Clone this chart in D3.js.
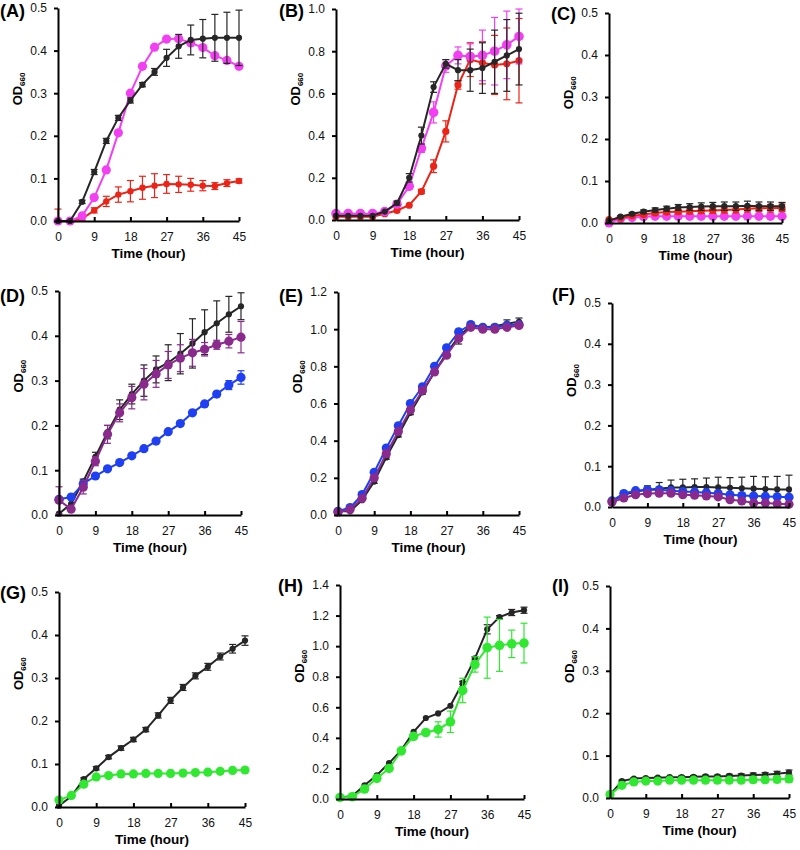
<!DOCTYPE html>
<html><head><meta charset="utf-8">
<script src="https://cdn.jsdelivr.net/npm/d3@7"></script>
<style>body{margin:0;background:#fff} svg{display:block;font-family:"Liberation Sans",Arial,Helvetica,sans-serif}</style>
</head><body><svg id="c" width="800" height="850"></svg>
<script>
// ---------- data ----------
const time = [0,3,6,9,12,15,18,21,24,27,30,33,36,39,42,45];
const xTicks = [0,9,18,27,36,45];
const panelLabels = ["(A)","(B)","(C)","(D)","(E)","(F)","(G)","(H)","(I)"];
const yMaxes = [0.5,1.0,0.5,0.5,1.2,0.5,0.5,1.4,0.5];
const yTickSteps = [0.1,0.2,0.1,0.1,0.2,0.1,0.1,0.2,0.1];

// Panel A
const aBlack      = [0.000,0.000,0.045,0.115,0.188,0.242,0.283,0.320,0.350,0.383,0.410,0.425,0.428,0.430,0.430,0.430];
const aBlackErr   = [0,0,0.004,0.006,0.006,0.006,0.006,0.005,0.008,0.02,0.028,0.035,0.045,0.055,0.06,0.065];
const aMagenta    = [0.000,0.000,0.012,0.055,0.120,0.207,0.300,0.363,0.408,0.427,0.428,0.418,0.407,0.388,0.377,0.363];
const aMagentaErr = [0,0,0,0,0,0,0,0,0,0,0,0,0,0,0,0];
const aRed        = [0.000,0.000,0.005,0.025,0.046,0.062,0.070,0.078,0.083,0.087,0.086,0.085,0.083,0.082,0.089,0.094];
const aRedErr     = [0.028,0,0.004,0.006,0.012,0.018,0.025,0.027,0.028,0.022,0.019,0.015,0.012,0.008,0.008,0.005];
// Panel B
const bBlack      = [0.020,0.020,0.020,0.020,0.040,0.080,0.200,0.400,0.630,0.740,0.710,0.710,0.720,0.750,0.780,0.810];
const bBlackErr   = [0,0,0,0,0,0.01,0.02,0.04,0.025,0.02,0.05,0.10,0.12,0.15,0.17,0.17];
const bMagenta    = [0.030,0.030,0.030,0.030,0.040,0.075,0.160,0.340,0.510,0.730,0.780,0.775,0.780,0.800,0.830,0.870];
const bMagentaErr = [0,0,0,0,0,0,0.01,0.02,0.05,0.03,0.04,0.06,0.12,0.16,0.16,0.13];
const bRed        = [0.015,0.015,0.015,0.015,0.030,0.045,0.070,0.135,0.255,0.420,0.640,0.760,0.745,0.735,0.740,0.755];
const bRedErr     = [0,0,0,0,0,0,0,0.01,0.03,0.05,0.02,0.08,0.10,0.14,0.17,0.20];
// Panel C
const cBlack      = [0.005,0.015,0.022,0.027,0.031,0.034,0.037,0.038,0.039,0.040,0.040,0.040,0.041,0.040,0.040,0.040];
const cBlackErr   = [0,0.002,0.003,0.004,0.005,0.006,0.007,0.008,0.009,0.009,0.010,0.010,0.011,0.010,0.010,0.009];
const cMagenta    = [0.000,0.010,0.013,0.015,0.016,0.016,0.016,0.016,0.016,0.016,0.016,0.016,0.016,0.016,0.016,0.016];
const cMagentaErr = [0,0,0,0,0,0,0,0,0,0,0,0,0,0,0,0];
const cRed        = [0.008,0.012,0.017,0.020,0.024,0.026,0.027,0.028,0.029,0.030,0.031,0.032,0.034,0.035,0.035,0.036];
const cRedErr     = [0,0,0.002,0.003,0.004,0.005,0.005,0.006,0.006,0.007,0.007,0.008,0.008,0.008,0.009,0.009];
// Panel D
const dBlack      = [0.003,0.025,0.075,0.130,0.185,0.235,0.270,0.300,0.325,0.340,0.360,0.383,0.408,0.428,0.448,0.466];
const dBlackErr   = [0,0,0.005,0.01,0.015,0.022,0.022,0.035,0.03,0.04,0.045,0.055,0.05,0.05,0.04,0.03];
const dBlue       = [0.035,0.040,0.070,0.087,0.103,0.117,0.132,0.148,0.165,0.186,0.204,0.228,0.248,0.270,0.290,0.307];
const dBlueErr    = [0,0,0,0,0,0,0,0,0,0,0,0,0,0.005,0.01,0.015];
const dPurple     = [0.033,0.013,0.062,0.120,0.180,0.228,0.262,0.292,0.315,0.335,0.350,0.362,0.370,0.380,0.388,0.397];
const dPurpleErr  = [0.03,0,0.015,0.01,0.02,0.02,0.025,0.035,0.03,0.03,0.03,0.03,0.015,0.01,0.015,0.035];
// Panel E
const eBlack      = [0.020,0.020,0.080,0.180,0.310,0.430,0.550,0.660,0.770,0.870,0.960,1.020,1.010,1.015,1.030,1.040];
const eBlackErr   = [0,0,0,0.01,0.01,0.01,0.01,0.01,0.01,0.01,0.04,0.01,0.01,0.01,0.02,0.02];
const eBlue       = [0.020,0.040,0.110,0.230,0.360,0.480,0.600,0.690,0.800,0.900,0.985,1.025,1.010,1.010,1.020,1.025];
const eBlueErr    = [0,0,0,0,0,0,0,0,0,0,0,0,0,0,0,0];
const ePurple     = [0.015,0.030,0.090,0.200,0.330,0.450,0.565,0.670,0.770,0.860,0.950,1.010,1.000,1.000,1.010,1.020];
const ePurpleErr  = [0,0,0.01,0.01,0.02,0.01,0.01,0.01,0.01,0.01,0.01,0.01,0.01,0.01,0.01,0.01];
// Panel F
const fBlack      = [0.015,0.030,0.038,0.042,0.045,0.048,0.048,0.049,0.049,0.048,0.047,0.046,0.045,0.044,0.043,0.043];
const fBlackErr   = [0,0.003,0.006,0.01,0.015,0.018,0.02,0.02,0.022,0.025,0.025,0.027,0.03,0.03,0.032,0.035];
const fBlue       = [0.015,0.033,0.040,0.042,0.042,0.040,0.038,0.037,0.035,0.033,0.030,0.028,0.027,0.026,0.025,0.024];
const fBlueErr    = [0,0,0,0,0,0,0,0,0,0,0,0,0,0,0,0];
const fPurple     = [0.012,0.022,0.030,0.033,0.034,0.034,0.030,0.029,0.027,0.025,0.018,0.015,0.010,0.010,0.008,0.007];
const fPurpleErr  = [0,0,0,0,0,0,0,0,0,0,0,0,0,0,0,0];
// Panel G
const gBlack      = [0.003,0.025,0.065,0.090,0.116,0.137,0.157,0.180,0.213,0.248,0.278,0.305,0.326,0.350,0.368,0.387];
const gBlackErr   = [0,0,0.003,0.004,0.004,0.005,0.005,0.005,0.006,0.007,0.007,0.007,0.008,0.008,0.01,0.011];
const gGreen      = [0.016,0.027,0.053,0.070,0.073,0.077,0.077,0.078,0.078,0.078,0.079,0.080,0.081,0.083,0.085,0.086];
const gGreenErr   = [0,0,0,0,0,0,0,0,0,0,0,0,0,0,0,0];
// Panel H
const hBlack      = [0.010,0.020,0.090,0.155,0.235,0.320,0.440,0.530,0.560,0.610,0.760,0.920,1.110,1.190,1.220,1.235];
const hBlackErr   = [0,0,0,0,0,0,0,0,0,0,0.01,0.01,0.03,0.01,0.02,0.02];
const hGreen      = [0.010,0.015,0.065,0.135,0.200,0.315,0.410,0.435,0.455,0.505,0.710,0.880,0.990,1.005,1.015,1.020];
const hGreenErr   = [0,0,0,0,0,0,0,0,0.05,0.07,0.08,0.05,0.20,0.17,0.09,0.13];
// Panel I
const iBlack      = [0.008,0.040,0.046,0.047,0.048,0.049,0.049,0.050,0.051,0.051,0.052,0.053,0.054,0.055,0.057,0.060];
const iBlackErr   = [0,0.002,0.002,0.002,0.002,0.002,0.003,0.003,0.003,0.003,0.004,0.004,0.005,0.005,0.006,0.006];
const iGreen      = [0.008,0.030,0.038,0.040,0.040,0.042,0.042,0.042,0.042,0.042,0.042,0.042,0.043,0.043,0.044,0.045];
const iGreenErr   = [0,0.003,0.004,0.004,0.004,0.005,0.005,0.005,0.006,0.006,0.006,0.006,0.007,0.007,0.008,0.008];

// ---------- styles ----------
const BLACK="#262626", MAGENTA="#f23ff2", RED="#ec2418", BLUE="#1f3ff2", PURPLE="#8a2a8c", GREEN="#30e830";
const S = (v,e,c,r)=>({v,e,c,r});
const seriesByPanel = [
  [S(aRed,aRedErr,RED,3.2), S(aMagenta,aMagentaErr,MAGENTA,4.6), S(aBlack,aBlackErr,BLACK,3.1)],
  [S(bRed,bRedErr,RED,3.6), S(bMagenta,bMagentaErr,MAGENTA,4.8), S(bBlack,bBlackErr,BLACK,3.1)],
  [S(cMagenta,cMagentaErr,MAGENTA,4.6), S(cRed,cRedErr,RED,3.6), S(cBlack,cBlackErr,BLACK,3.1)],
  [S(dBlack,dBlackErr,BLACK,3.1), S(dBlue,dBlueErr,BLUE,4.6), S(dPurple,dPurpleErr,PURPLE,4.6)],
  [S(eBlack,eBlackErr,BLACK,3.1), S(eBlue,eBlueErr,BLUE,4.6), S(ePurple,ePurpleErr,PURPLE,4.6)],
  [S(fBlack,fBlackErr,BLACK,3.1), S(fBlue,fBlueErr,BLUE,4.6), S(fPurple,fPurpleErr,PURPLE,4.6)],
  [S(gBlack,gBlackErr,BLACK,3.1), S(gGreen,gGreenErr,GREEN,4.6)],
  [S(hBlack,hBlackErr,BLACK,3.1), S(hGreen,hGreenErr,GREEN,4.8)],
  [S(iBlack,iBlackErr,BLACK,3.1), S(iGreen,iGreenErr,GREEN,4.6)]
];
// frames: [x0, x1, yTop, yBottom, labelX, labelY]
const frames = [
  [58,239,8,221, 0,17], [336,519,9,220, 279,17], [609,782,13,223, 551,20],
  [59,241,291,515, 0,302], [338,519,292,515, 279,302], [612,789,303,507, 552,301],
  [59,245,592,807, 0,599], [340,524,585,799, 278,592], [610,789,586,798, 552,592]
];

// ---------- draw ----------
const svg = d3.select("#c");
frames.forEach((f,i)=>{
  const [x0,x1,yT,yB,lx,ly] = f;
  const g = svg.append("g");
  const x = d3.scaleLinear().domain([0,45]).range([x0,x1]);
  const y = d3.scaleLinear().domain([0,yMaxes[i]]).range([yB,yT]);
  const yt = d3.range(0, yMaxes[i]+1e-9, yTickSteps[i]);

  // series
  seriesByPanel[i].forEach(s=>{
    const sg = g.append("g");
    const pts = time.map((t,k)=>({t, v:s.v[k], e:s.e[k]}));
    // error bars
    pts.filter(p=>p.e>0).forEach(p=>{
      const cx = x(p.t), yl=y(p.v-p.e), yh=y(p.v+p.e);
      sg.append("line").attr("x1",cx).attr("x2",cx).attr("y1",Math.min(yl,yB)).attr("y2",yh).attr("stroke",s.c).attr("stroke-width",1.2);
      [yh, Math.min(yl,yB)].forEach(yy=>{
        sg.append("line").attr("x1",cx-3.5).attr("x2",cx+3.5).attr("y1",yy).attr("y2",yy).attr("stroke",s.c).attr("stroke-width",1.2);
      });
    });
    sg.append("path").datum(pts)
      .attr("d", d3.line().x(p=>x(p.t)).y(p=>y(p.v)))
      .attr("fill","none").attr("stroke",s.c).attr("stroke-width",2);
    sg.selectAll("circle").data(pts).join("circle")
      .attr("cx",p=>x(p.t)).attr("cy",p=>y(p.v)).attr("r",s.r).attr("fill",s.c);
  });

  // axes
  const ya = g.append("g").attr("transform",`translate(${x0},0)`)
    .call(d3.axisLeft(y).tickValues(yt).tickFormat(d3.format(".1f")).tickSizeInner(4).tickSizeOuter(0).tickPadding(7));
  const xa = g.append("g").attr("transform",`translate(0,${yB})`)
    .call(d3.axisBottom(x).tickValues(xTicks).tickFormat(d3.format("d")).tickSizeInner(-4).tickSizeOuter(0).tickPadding(11));
  [ya,xa].forEach(a=>{
    a.select(".domain").attr("stroke","#000").attr("stroke-width",2);
    a.selectAll(".tick line").attr("stroke","#000").attr("stroke-width",2);
    a.selectAll("text").attr("font-size",12).attr("fill","#111").attr("font-family","'Liberation Sans',Arial,sans-serif");
  });
  xa.selectAll(".tick").filter(d=>d===0).select("line").remove();

  // axis titles
  g.append("text").attr("x",(x0+x1)/2).attr("y",yB+37).attr("text-anchor","middle")
    .attr("font-size",13.5).attr("font-weight","bold").text("Time (hour)");
  const oy = yT + 0.38*(yB-yT);
  const ot = g.append("text").attr("transform",`translate(${x0-36},${oy}) rotate(-90)`).attr("text-anchor","middle")
    .attr("font-size",13).attr("font-weight","bold");
  ot.append("tspan").text("OD");
  ot.append("tspan").attr("font-size",8).attr("dy",3).text("660");

  // panel label
  g.append("text").attr("x",lx).attr("y",ly).attr("font-size",18).attr("font-weight","bold").text(panelLabels[i]);
});
</script></body></html>
